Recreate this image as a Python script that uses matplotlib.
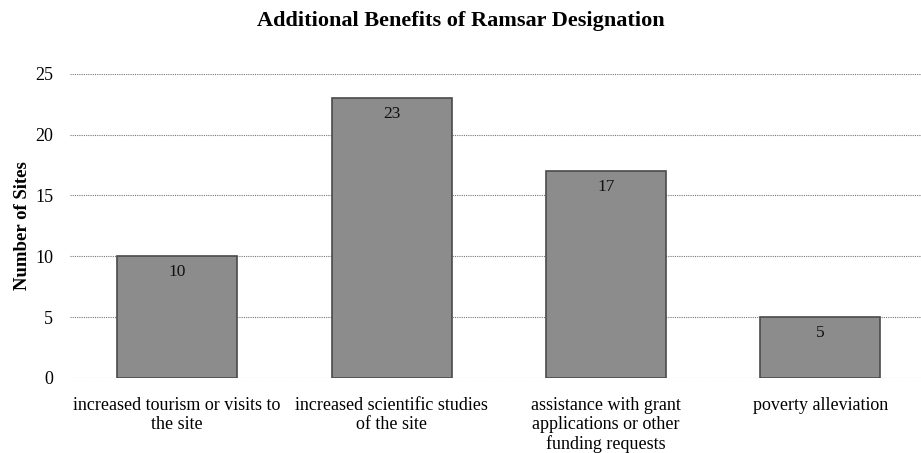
import numpy as np
import matplotlib.pyplot as plt

plt.rcParams['font.family'] = ['Liberation Serif', 'DejaVu Serif']

categories = ["increased tourism or visits to\nthe site",
              "increased scientific studies\nof the site",
              "assistance with grant\napplications or other\nfunding requests",
              "poverty alleviation"]
counts = [10, 23, 17, 5]


def main():
    fig = plt.figure(figsize=(9.21, 4.53), dpi=100)
    ax = fig.add_axes([0.076, 0.166, 0.924, 0.671])
    x = np.arange(len(categories))
    ax.bar(x, counts, width=0.56, color="#8c8c8c", edgecolor="#4a4a4a",
           linewidth=1.2, zorder=2)
    for xi, v in zip(x, counts):
        ax.text(xi, v - 1.3, str(v), ha="center", va="center",
                fontsize=12.5, color="#111111", zorder=3)
    ax.set_ylim(0, 25)
    ax.set_xlim(-0.5, 3.47)
    ax.set_yticks(range(0, 26, 5))
    ax.yaxis.grid(True, linestyle=(0, (1, 1)), color="#777777", linewidth=0.8, zorder=0)
    ax.set_axisbelow(True)
    for s in ax.spines.values():
        s.set_visible(False)
    ax.tick_params(axis="y", length=0, labelsize=13, pad=12)
    ax.tick_params(axis="x", length=0, pad=14)
    ax.set_xticks(x)
    ax.set_xticklabels(categories, fontsize=13, linespacing=1.15)
    ax.set_ylabel("Number of Sites", fontsize=13.5, fontweight="bold", labelpad=3)
    fig.text(0.5, 0.953, "Additional Benefits of Ramsar Designation",
             ha="center", va="center", fontsize=16, fontweight="bold")
    fig.savefig("out.png", dpi=100)


if __name__ == "__main__":
    main()
